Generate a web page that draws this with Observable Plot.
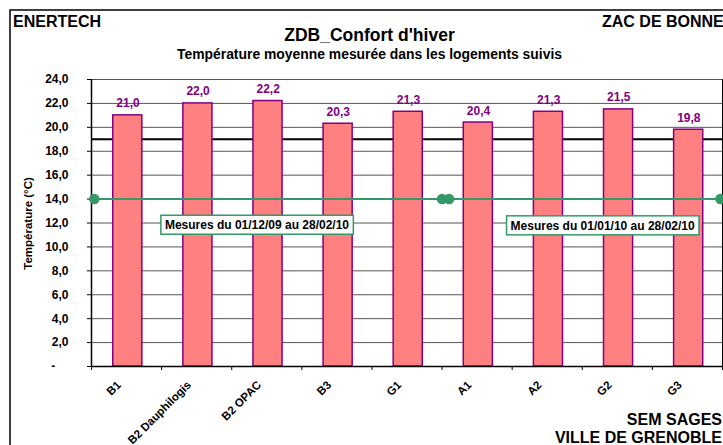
<!DOCTYPE html>
<html>
<head>
<meta charset="utf-8">
<script src="https://cdn.jsdelivr.net/npm/d3@7"></script>
<script src="https://cdn.jsdelivr.net/npm/@observablehq/plot@0.6"></script>
<style>
  html, body { margin: 0; padding: 0; background: #fff; }
  #wrap { position: relative; width: 723px; height: 445px; overflow: hidden; font-family: "Liberation Sans", Arial, sans-serif; }
  #chart { position: absolute; left: 0; top: 0; }
  #overlay { position: absolute; left: 0; top: 0; pointer-events: none; }
  #overlay text { font-family: "Liberation Sans", Arial, sans-serif; font-weight: bold; fill: #000; }
</style>
</head>
<body>
<div id="wrap">
  <div id="chart"></div>
  <svg id="overlay" width="723" height="445">
    <rect x="10" y="10" width="800" height="500" fill="none" stroke="#000" stroke-width="1.5"></rect>
    <text x="13" y="27" font-size="16">ENERTECH</text>
    <text x="602" y="27" font-size="16">ZAC DE BONNE</text>
    <text x="369.5" y="41" font-size="17.5" text-anchor="middle">ZDB_Confort d'hiver</text>
    <text x="369.5" y="59" font-size="13.9" text-anchor="middle">Température moyenne mesurée dans les logements suivis</text>
    <text transform="translate(32,223.5) rotate(-90)" font-size="11.5" text-anchor="middle">Température (°C)</text>
    <text x="722" y="425" font-size="16" text-anchor="end">SEM SAGES</text>
    <text x="722" y="443" font-size="16" text-anchor="end">VILLE DE GRENOBLE</text>
  </svg>
</div>
<script>
// ---- data ----
const categories = ["B1", "B2 Dauphilogis", "B2 OPAC", "B3", "G1", "A1", "A2", "G2", "G3"];
const temperatures = [21.0, 22.0, 22.2, 20.3, 21.3, 20.4, 21.3, 21.5, 19.8];
const yTicks = [0, 2, 4, 6, 8, 10, 12, 14, 16, 18, 20, 22, 24];
const comfortThreshold = [19];
const periodLabels = ["Mesures du 01/12/09 au 28/02/10", "Mesures du 01/01/10 au 28/02/10"];
const periodStart = [0.04, 5.1];
const periodEnd = [5.0, 8.97];
const periodLevel = [14, 14];
const periodLabelX = [2.36, 7.29];
const periodLabelY = [11.8, 11.75];

// ---- derived tables ----
const bars = categories.map((c, i) => ({cat: c, i, v: temperatures[i]}));
const segments = [];
periodLabels.forEach((p, k) => {
  segments.push({p, x: periodStart[k], y: periodLevel[k]});
  segments.push({p, x: periodEnd[k], y: periodLevel[k]});
});
const labelRows = periodLabels.map((p, k) => ({p, x: periodLabelX[k], y: periodLabelY[k]}));
const fmt = v => v === 0 ? "-\u2007\u2007" : v.toFixed(1).replace(".", ",");
const green = "#339966";
const purple = "#800080";

const chart = Plot.plot({
  width: 723,
  height: 445,
  marginLeft: 91,
  marginRight: 1,
  marginTop: 79,
  marginBottom: 79,
  style: {fontFamily: "'Liberation Sans', Arial, sans-serif", background: "transparent"},
  x: {type: "linear", domain: [0, categories.length]},
  y: {type: "linear", domain: [0, 24]},
  marks: [
    Plot.ruleY(yTicks, {stroke: "#555", strokeWidth: 1}),
    Plot.ruleY(comfortThreshold, {stroke: "#000", strokeWidth: 2}),
    Plot.rectY(bars, {x1: d => d.i + 0.31, x2: d => d.i + 0.725, y1: 0, y2: "v", fill: "#ff8080", stroke: purple, strokeWidth: 1.5}),
    Plot.text(bars, {x: d => d.i + 0.52, y: "v", text: d => fmt(d.v), dy: -8, lineAnchor: "bottom", fill: purple, fontWeight: "bold", fontSize: 12}),
    Plot.ruleX([0], {stroke: "#000", strokeWidth: 1.5}),
    Plot.ruleX([categories.length], {stroke: "#000", strokeWidth: 1}),
    Plot.ruleY([0], {stroke: "#000", strokeWidth: 1.5}),
    Plot.axisY({ticks: yTicks, tickSize: 4, tickPadding: 19, tickFormat: fmt, fontWeight: "bold", fontSize: 12, fill: "#000", stroke: "#000", label: null}),
    Plot.axisX({ticks: d3.range(0, categories.length + 1), tickSize: 4, tickFormat: () => "", stroke: "#000", label: null}),
    Plot.text(bars, {x: d => d.i + 0.5, y: 0, text: "cat", rotate: -45, textAnchor: "end", lineAnchor: "middle", dy: 16.5, dx: -7.5, fontWeight: "bold", fontSize: 11.5, fill: "#000"}),
    Plot.line(segments, {x: "x", y: "y", z: "p", stroke: green, strokeWidth: 2}),
    Plot.dot(segments, {x: "x", y: "y", r: 4.5, fill: green, stroke: green}),
    Plot.text(labelRows, {x: "x", y: "y", text: "p", fontWeight: "bold", fontSize: 12, fill: "#000"})
  ]
});
document.getElementById("chart").appendChild(chart);

// boxes around the period labels
const targets = Array.from(chart.querySelectorAll("text")).filter(t => periodLabels.includes(t.textContent));
targets.forEach(t => {
  const b = t.getBBox();
  const tr = t.getAttribute("transform");
  const r = document.createElementNS("http://www.w3.org/2000/svg", "rect");
  r.setAttribute("x", b.x - 4);
  r.setAttribute("y", b.y - 3);
  r.setAttribute("width", b.width + 8);
  r.setAttribute("height", b.height + 5);
  r.setAttribute("fill", "#fff");
  r.setAttribute("stroke", green);
  r.setAttribute("stroke-width", 1.5);
  if (tr) r.setAttribute("transform", tr);
  t.parentNode.insertBefore(r, t);
});
</script>
</body>
</html>
